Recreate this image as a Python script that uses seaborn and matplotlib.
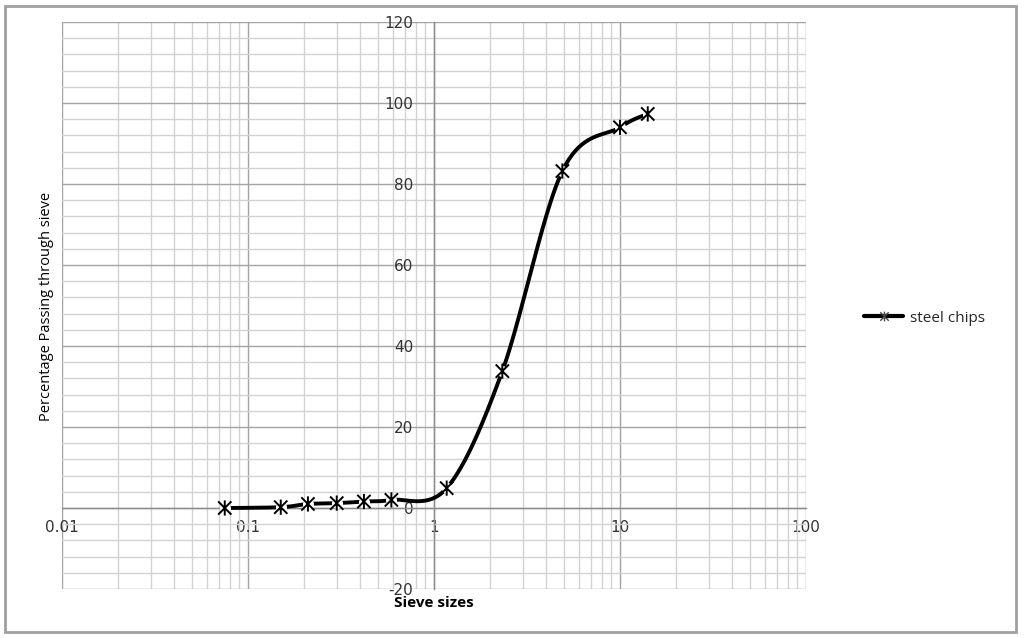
import numpy as np
import pandas as pd
import matplotlib
matplotlib.use('Agg')
import matplotlib.pyplot as plt
import seaborn as sns
from matplotlib.path import Path
from matplotlib.lines import Line2D
from matplotlib.patches import Rectangle
from matplotlib.ticker import LogLocator, MultipleLocator, FixedLocator, FixedFormatter, NullFormatter

# ---- data ----
sieve_sizes = [0.075, 0.15, 0.21, 0.3, 0.42, 0.59, 1.17, 2.33, 4.9, 10.0, 14.1]
percent_passing = [0.0, 0.2, 1.0, 1.2, 1.6, 2.0, 4.9, 33.8, 83.2, 94.0, 97.3]
series_name = 'steel chips'
x_ticks = [0.01, 0.1, 1, 10, 100]
x_tick_labels = ['0.01', '0.1', '1', '10', '100']
y_ticks = [-20, 0, 20, 40, 60, 80, 100, 120]
y_tick_labels = ['-20', '0', '20', '40', '60', '80', '100', '120']
x_title = 'Sieve sizes'
y_title = 'Percentage Passing through sieve'

df = pd.DataFrame({'size': sieve_sizes, 'passing': percent_passing})

sns.set_theme(style='white')
plt.rcParams['font.family'] = ['Open Sans', 'DejaVu Sans']

W, H = 1024, 638
fig = plt.figure(figsize=(W / 100, H / 100), dpi=100)
ax = fig.add_axes([62 / W, 1 - 589 / H, (806 - 62) / W, (589 - 22) / H])
ax.set_xscale('log')
ax.set_xlim(0.01, 100)
ax.set_ylim(-20, 120)

# ---- smooth curve (Excel-like Catmull-Rom smoothing in display space) ----
def smooth_curve(xs, ys, sx=186.0, sy=4.05, n=40):
    u = np.log10(np.asarray(xs, float)) * sx
    v = np.asarray(ys, float) * sy
    P = np.column_stack([u, v])
    out = []
    m = len(P)
    for i in range(m - 1):
        p0 = P[i - 1] if i > 0 else P[i]
        p1 = P[i]
        p2 = P[i + 1]
        p3 = P[i + 2] if i + 2 < m else P[i + 1]
        b1 = p1 + (p2 - p0) / 6.0
        b2 = p2 - (p3 - p1) / 6.0
        t = np.linspace(0, 1, n)[:, None]
        seg = ((1 - t) ** 3) * p1 + 3 * ((1 - t) ** 2) * t * b1 + 3 * (1 - t) * t ** 2 * b2 + t ** 3 * p2
        out.append(seg if i == 0 else seg[1:])
    c = np.vstack(out)
    return 10 ** (c[:, 0] / sx), c[:, 1] / sy

cx, cy = smooth_curve(df['size'], df['passing'])
curve = pd.DataFrame({'size': cx, 'passing': cy})
sns.lineplot(data=curve, x='size', y='passing', ax=ax, color='black', lw=2.8,
             sort=False, estimator=None, zorder=4)

star = Path([(-1, -1), (1, 1), (-1, 1), (1, -1), (0, -1.15), (0, 1.15)],
            [Path.MOVETO, Path.LINETO, Path.MOVETO, Path.LINETO, Path.MOVETO, Path.LINETO])
# white halo under markers, then the star markers
ax.plot(df['size'], df['passing'], ls='none', marker='o', ms=8, mfc='white', mec='none', zorder=5)
sns.scatterplot(data=df, x='size', y='passing', ax=ax, marker=star, s=120,
                facecolor='none', edgecolor='black', linewidth=1.4, zorder=6)

# ---- axes / grid ----
ax.xaxis.set_major_locator(FixedLocator(x_ticks))
ax.xaxis.set_major_formatter(FixedFormatter(x_tick_labels))
ax.xaxis.set_minor_locator(LogLocator(base=10, subs=np.arange(2, 10)))
ax.xaxis.set_minor_formatter(NullFormatter())
ax.yaxis.set_major_locator(FixedLocator(y_ticks))
ax.yaxis.set_major_formatter(FixedFormatter(y_tick_labels))
ax.yaxis.set_minor_locator(MultipleLocator(4))

ax.grid(which='major', color='#a3a3a3', lw=1.0)
ax.grid(which='minor', color='#d2d2d2', lw=1.0)
for gl in ax.get_xgridlines() + ax.get_ygridlines():
    gl.set_clip_on(False)
ax.set_axisbelow(True)

for s in ['top', 'right']:
    ax.spines[s].set_visible(False)
ax.spines['left'].set_position(('data', 1))
ax.spines['bottom'].set_position(('data', 0))
for s in ['left', 'bottom']:
    ax.spines[s].set_color('#8c8c8c')
    ax.spines[s].set_linewidth(1.0)
    ax.spines[s].set_zorder(2)

ax.tick_params(axis='both', which='both', length=0)
ax.tick_params(axis='y', pad=15, labelsize=11, labelcolor='#333333')
ax.tick_params(axis='x', pad=9, labelsize=11, labelcolor='#333333')
for lab in ax.get_xticklabels() + ax.get_yticklabels():
    lab.set_family(['DejaVu Sans'])
ax.set_xlabel('')
ax.set_ylabel('')

fig.text(47 / W, 1 - 306 / H, y_title, rotation=90, ha='center', va='center',
         fontsize=10.5, color='black')
fig.text(434 / W, 1 - 603 / H, x_title, ha='center', va='center',
         fontsize=11, fontweight='bold', color='black')

handle = Line2D([], [], color='black', lw=3.0, marker=star, ms=7, mec='#444444',
                mew=1.0, mfc='none')
fig.legend([handle], [series_name], loc='center left',
           bbox_to_anchor=(850 / W, 1 - 318 / H), frameon=False, fontsize=11,
           handlelength=2.6, handletextpad=0.4)

fig.add_artist(Rectangle((5 / W, 6 / H), (1016 - 5) / W, (632 - 6) / H,
                         transform=fig.transFigure, fill=False,
                         edgecolor='#a0a0a0', lw=2))

fig.savefig('out.png', dpi=100)
